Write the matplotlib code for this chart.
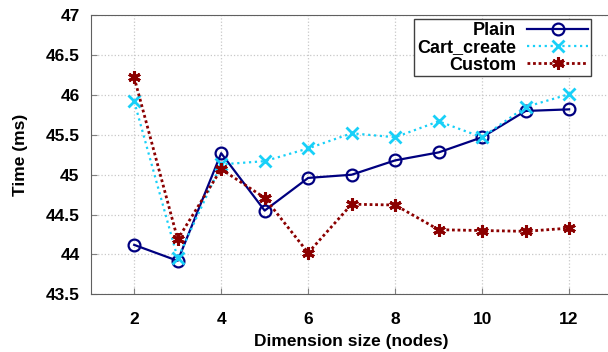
import matplotlib
matplotlib.use('Agg')
import matplotlib.pyplot as plt

plt.rcParams['font.family'] = ['Liberation Sans', 'DejaVu Sans']
plt.rcParams['font.weight'] = 'bold'

# Data
nodes = [2, 3, 4, 5, 6, 7, 8, 9, 10, 11, 12]
plain = [44.12, 43.92, 45.27, 44.55, 44.96, 45.00, 45.18, 45.28, 45.47, 45.80, 45.82]
cart_create = [45.92, 43.95, 45.13, 45.17, 45.33, 45.52, 45.47, 45.67, 45.47, 45.85, 46.01]
custom = [46.22, 44.19, 45.07, 44.71, 44.02, 44.63, 44.62, 44.31, 44.30, 44.29, 44.33]

fig = plt.figure(figsize=(6.08, 3.52), dpi=100)
# right edge of the axes runs past the picture, as in the reference
ax = fig.add_axes([90.7/608, 1-294.3/352, (612.6-90.7)/608, (294.3-15.3)/352])

ax.plot(nodes, plain, color='#000080', lw=1.6, marker='o', ms=8.5,
        mfc='none', mew=1.6, label='Plain')
ax.plot(nodes, cart_create, color='#18d0f8', lw=1.6, ls=':', marker='x', ms=8.5,
        mew=2, label='Cart_create')
ax.plot(nodes, custom, color='#8b0000', lw=2, ls=(0, (1, 1)), marker=(6, 2, 0), ms=9,
        mew=2.2, label='Custom')

ax.set_xlim(1, 13)
ax.set_ylim(43.5, 47)
ax.set_xticks([2, 4, 6, 8, 10, 12])
ax.set_yticks([43.5, 44, 44.5, 45, 45.5, 46, 46.5, 47])
ax.set_yticklabels(['43.5', '44', '44.5', '45', '45.5', '46', '46.5', '47'])
ax.tick_params(direction='in', length=4, color='#808080', labelsize=12.5)
ax.tick_params(axis='x', pad=13)
ax.tick_params(axis='y', pad=8)
for s in ax.spines.values():
    s.set_color('#606060')
ax.grid(True, color='#c8c8c8', ls=':', lw=0.9)
ax.set_axisbelow(True)

ax.set_xlabel('Dimension size (nodes)', fontsize=12.5, fontweight='bold', labelpad=5)
ax.set_ylabel('Time (ms)', fontsize=12.5, fontweight='bold', labelpad=13)

leg = ax.legend(loc='upper right', bbox_to_anchor=((591-90.7)/(612.6-90.7), 1-4/279),
                markerfirst=False, fancybox=False, framealpha=1, edgecolor='#404040',
                prop={'size': 13, 'weight': 'bold'}, handlelength=3.4,
                borderpad=0.15, labelspacing=0.02, handletextpad=0.6, borderaxespad=0)
for t in leg.get_texts():
    t.set_ha('right')
leg.get_frame().set_linewidth(1.0)

fig.savefig('out.png', dpi=100)
